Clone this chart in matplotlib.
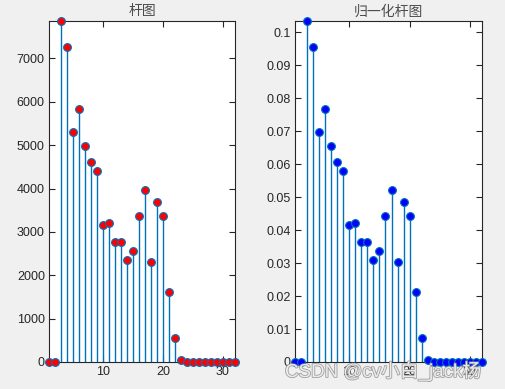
import matplotlib
matplotlib.use("Agg")
import matplotlib.pyplot as plt
import matplotlib.patheffects as pe
import numpy as np

# bin index 1..32 and counts
bins = np.arange(1, 33)
counts = [0, 10, 7864, 7272, 5300, 5843, 4984, 4622, 4408, 3164, 3217, 2756,
          2756, 2350, 2565, 3371, 3963, 2311, 3687, 3378, 1613, 544, 37, 0,
          0, 0, 0, 0, 0, 0, 0, 0]
counts = np.array(counts, dtype=float)
norm = counts / counts.sum()

titles = ["杆图", "归一化杆图"]

plt.rcParams['font.family'] = ['Liberation Sans', 'Noto Sans CJK SC', 'DejaVu Sans']

W, H = 505, 389
fig = plt.figure(figsize=(W / 100, H / 100), dpi=100, facecolor='#f0f0f0')

stem_col = '#0072bd'
axis_col = '#262626'


def add_axes(x0, y0, x1, y1):
    return fig.add_axes([x0 / W, 1 - y1 / H, (x1 - x0) / W, (y1 - y0) / H])


def style(ax):
    ax.set_facecolor('white')
    for s in ax.spines.values():
        s.set_color(axis_col)
        s.set_linewidth(0.8)
    ax.tick_params(direction='in', length=4, width=0.8, color=axis_col,
                   labelcolor=axis_col, labelsize=9, top=True, right=True,
                   pad=3)


def draw_stem(ax, y, face):
    ml, sl, bl = ax.stem(bins, y, basefmt=' ')
    plt.setp(sl, color=stem_col, linewidth=1.0)
    plt.setp(ml, marker='o', markersize=5.6, markerfacecolor=face,
             markeredgecolor=stem_col, markeredgewidth=0.8, zorder=3)
    ml.set_clip_on(False)


# left panel
ax1 = add_axes(49, 21, 235, 362)
draw_stem(ax1, counts, 'red')
ax1.set_xlim(1, 32)
ax1.set_ylim(0, counts.max())
ax1.set_xticks([10, 20, 30])
ax1.set_yticks(np.arange(0, 8000, 1000))
style(ax1)
ax1.set_title(titles[0], fontsize=10, color='#4d4d4d', pad=4)

# right panel
ax2 = add_axes(295, 21, 482, 362)
draw_stem(ax2, norm, 'blue')
ax2.set_xlim(1, 32)
ax2.set_ylim(0, norm.max())
ax2.set_xticks([10, 20, 30])
yt = np.round(np.arange(0, 0.101, 0.01), 2)
ax2.set_yticks(yt)
ax2.set_yticklabels(['%g' % v for v in yt])
style(ax2)
ax2.set_title(titles[1], fontsize=10, color='#4d4d4d', pad=4)

# watermark
fig.text(285 / W, 1 - 371 / H, "CSDN @cv小白_jack杨", fontsize=13.5, color='white',
         alpha=0.8, ha='left', va='center',
         path_effects=[pe.withStroke(linewidth=1.2, foreground='#8a8a8a')])

fig.savefig("out.png", dpi=100, facecolor=fig.get_facecolor())
